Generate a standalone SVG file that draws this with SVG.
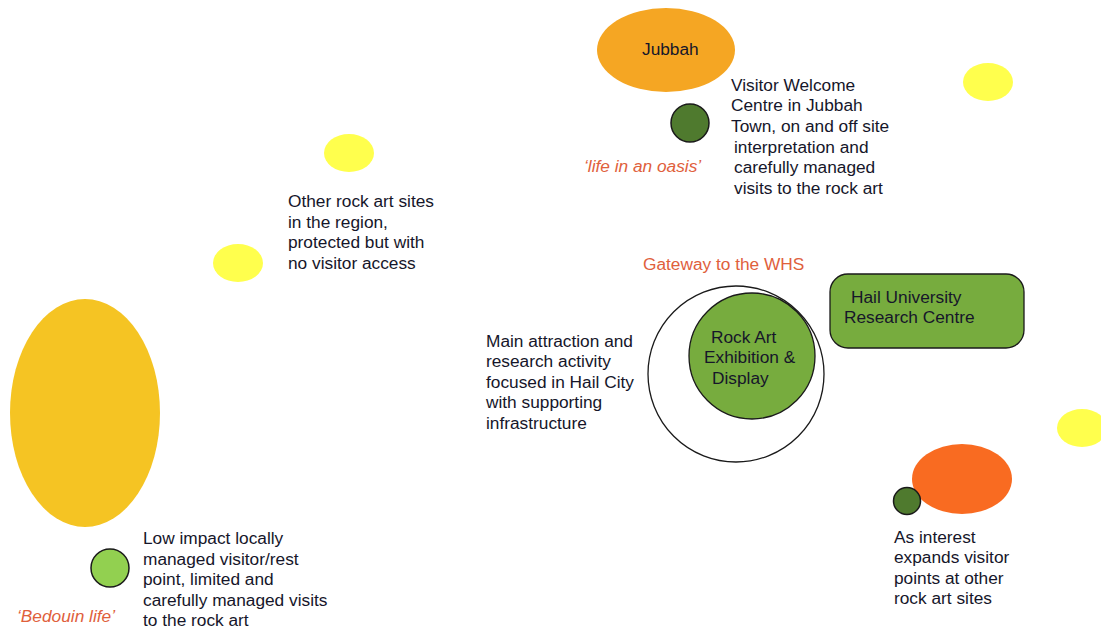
<svg xmlns="http://www.w3.org/2000/svg" width="1101" height="630" viewBox="0 0 1101 630">
<style>
text{font-family:"Liberation Sans",Arial,sans-serif;font-size:17.3px;fill:#16162a}
.lbl{fill:#e0603c}
.it{font-style:italic}
.yel{fill:#ffff4d}
.dk{fill:#4f7a2e;stroke:#1a1a1a;stroke-width:1.5}
</style>
<rect width="1101" height="630" fill="#fff"/>
<g id="connectors"></g>
<g id="jubbah"><ellipse cx="666" cy="50" rx="69" ry="42" fill="#f5a623"/><text x="642" y="55">Jubbah</text></g>
<g id="welcome"><circle cx="690" cy="123" r="19" class="dk"/>
<text x="731" y="91">Visitor Welcome</text><text x="731" y="111">Centre in Jubbah</text><text x="731" y="132">Town, on and off site</text><text x="734" y="153">interpretation and</text><text x="734" y="173">carefully managed</text><text x="734" y="194">visits to the rock art</text>
<text x="584" y="172" class="lbl it">‘life in an oasis’</text></g>
<g id="yellow-tr"><ellipse cx="988" cy="82" rx="25" ry="19" class="yel"/></g>
<g id="yellow-1"><ellipse cx="349" cy="153" rx="25" ry="19" class="yel"/></g>
<g id="yellow-2"><ellipse cx="238" cy="263" rx="25" ry="19" class="yel"/></g>
<g id="other-sites"><text x="288" y="207">Other rock art sites</text><text x="288" y="228">in the region,</text><text x="288" y="248">protected but with</text><text x="288" y="269">no visitor access</text></g>
<g id="bedouin"><ellipse cx="85" cy="413" rx="75" ry="114" fill="#f5c423"/></g>
<g id="rest-point"><circle cx="110" cy="568" r="19" fill="#92d050" stroke="#1a1a1a" stroke-width="1.5"/>
<text x="143" y="544">Low impact locally</text><text x="143" y="565">managed visitor/rest</text><text x="143" y="585">point, limited and</text><text x="143" y="606">carefully managed visits</text><text x="143" y="626">to the rock art</text>
<text x="17" y="622" class="lbl it">‘Bedouin life’</text></g>
<g id="gateway"><text x="643" y="270" class="lbl">Gateway to the WHS</text>
<circle cx="736" cy="374" r="88" fill="#fff" stroke="#1a1a1a" stroke-width="1.3"/>
<circle cx="752" cy="356" r="63" fill="#77ac3e" stroke="#1a1a1a" stroke-width="1.3"/>
<text x="711" y="343">Rock Art</text><text x="704" y="363">Exhibition &amp;</text><text x="712" y="384">Display</text></g>
<g id="main-attraction"><text x="486" y="347">Main attraction and</text><text x="486" y="367">research activity</text><text x="486" y="388">focused in Hail City</text><text x="486" y="408">with supporting</text><text x="486" y="429">infrastructure</text></g>
<g id="hail-uni"><rect x="830" y="274" width="194" height="74" rx="18" fill="#77ac3e" stroke="#1a1a1a" stroke-width="1.3"/>
<text x="851" y="303">Hail University</text><text x="844" y="323">Research Centre</text></g>
<g id="yellow-r"><ellipse cx="1082" cy="428" rx="25" ry="19" class="yel"/></g>
<g id="expansion"><ellipse cx="962" cy="479" rx="50" ry="35" fill="#f96b21"/>
<circle cx="907" cy="501" r="13.5" class="dk"/>
<text x="894" y="543">As interest</text><text x="894" y="563">expands visitor</text><text x="894" y="584">points at other</text><text x="894" y="604">rock art sites</text></g>
</svg>
